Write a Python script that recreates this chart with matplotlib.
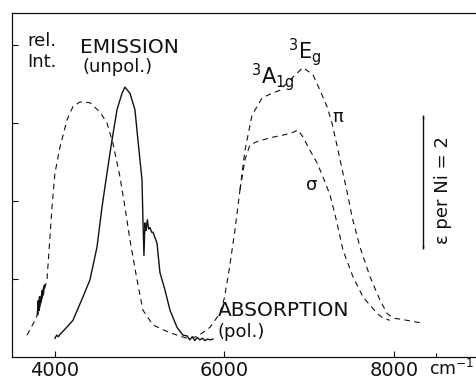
import matplotlib
matplotlib.use("Agg")
import matplotlib.pyplot as plt

# emission (unpolarised), solid trace
em_x = [4000, 4020, 4040, 4059, 4130, 4212, 4330, 4413, 4496, 4555, 4614, 4673,
        4732, 4791, 4826, 4885, 4944, 4979, 5027, 5038, 5050, 5062, 5075, 5090,
        5105, 5121, 5140, 5156, 5204, 5239, 5298, 5357, 5440, 5510, 5560, 5590,
        5620, 5650, 5680, 5710, 5740, 5770, 5800, 5830, 5864]
em_y = [0.24, 0.28, 0.26, 0.29, 0.37, 0.47, 0.77, 0.99, 1.41, 1.92, 2.36, 2.78,
        3.17, 3.38, 3.46, 3.38, 3.17, 2.78, 2.27, 1.76, 1.30, 1.72, 1.62, 1.76,
        1.64, 1.66, 1.60, 1.60, 1.46, 1.08, 0.86, 0.60, 0.38, 0.28, 0.27, 0.22,
        0.26, 0.21, 0.25, 0.22, 0.24, 0.21, 0.23, 0.22, 0.23]

# absorption, common part (low-energy band + rising edge)
ab_x = [3670, 3764, 3800, 3906, 3941, 3965, 4000, 4059, 4142, 4212, 4295, 4413,
        4531, 4614, 4684, 4767, 4826, 4885, 4968, 5038, 5156, 5357, 5558, 5676,
        5829, 5947, 6000, 6060, 6124, 6183]
ab_y = [0.28, 0.47, 0.56, 0.99, 1.54, 1.92, 2.36, 2.69, 3.04, 3.21, 3.27, 3.26,
        3.14, 3.00, 2.74, 2.31, 1.92, 1.50, 0.99, 0.60, 0.41, 0.31, 0.24, 0.26,
        0.38, 0.56, 0.76, 1.15, 1.63, 2.14]

# noisy piece of the low-energy absorption edge (solid)
ab_noise_x = [3795, 3805, 3812, 3820, 3830, 3840, 3850, 3860, 3870, 3882]
ab_noise_y = [0.55, 0.72, 0.60, 0.77, 0.70, 0.74, 0.85, 0.80, 0.90, 0.92]

# pi polarisation
pi_x = [6183, 6242, 6325, 6443, 6537, 6655, 6773, 6926, 7044, 7127, 7210, 7269,
        7330, 7390, 7450, 7505, 7599, 7717, 7835, 7918, 7988, 8154, 8307]
pi_y = [2.14, 2.65, 3.10, 3.32, 3.37, 3.42, 3.55, 3.71, 3.62, 3.42, 3.21, 3.00,
        2.70, 2.40, 2.10, 1.80, 1.41, 1.03, 0.73, 0.56, 0.50, 0.47, 0.44]

# sigma polarisation
si_x = [6183, 6242, 6301, 6384, 6537, 6714, 6808, 6868, 6926, 7009, 7092, 7162,
        7245, 7328, 7398, 7516, 7634, 7800, 7870, 7950]
si_y = [2.14, 2.53, 2.72, 2.76, 2.81, 2.85, 2.88, 2.91, 2.82, 2.65, 2.49, 2.31,
        2.08, 1.72, 1.37, 1.03, 0.77, 0.56, 0.50, 0.47]

# scale bar for epsilon per Ni = 2
bar_x = 8342
bar_lo, bar_hi = 1.41, 3.08

xticks = [4000, 6000, 8000]
xticklabels = ["4000", "6000", "8000"]
yticks = [1, 2, 3, 4]


def main():
    plt.rcParams['font.family'] = ['DejaVu Sans']
    plt.rcParams['mathtext.default'] = 'regular'
    ink = '#111111'

    fig = plt.figure(figsize=(4.77, 3.84), dpi=100)
    ax = fig.add_axes([12 / 477, 27 / 384, 465 / 477, 344 / 384])

    dash = dict(color=ink, lw=0.8, ls=(0, (5, 4)))
    ax.plot(ab_x, ab_y, **dash)
    ax.plot(pi_x, pi_y, **dash)
    ax.plot(si_x, si_y, **dash)
    ax.plot(ab_noise_x, ab_noise_y, color=ink, lw=1.4)
    ax.plot(em_x, em_y, color=ink, lw=1.0)

    # scale bar
    ax.plot([bar_x, bar_x], [bar_lo, bar_hi], color=ink, lw=1.0,
            marker='|', ms=3, mew=1.0)
    ax.text(8580, 2.14, "ε per Ni = 2", rotation=90, ha='center', va='center',
            fontsize=13, color=ink)

    ax.text(3670, 4.05, "rel.", fontsize=13, ha='left', va='center', color=ink)
    ax.text(3670, 3.78, "Int.", fontsize=13, ha='left', va='center', color=ink)
    ax.text(4295, 3.97, "EMISSION", fontsize=14.5, ha='left', va='center',
            color=ink)
    ax.text(4320, 3.72, "(unpol.)", fontsize=13, ha='left', va='center',
            color=ink)
    ax.text(5920, 0.60, "ABSORPTION", fontsize=14.5, ha='left', va='center',
            color=ink)
    ax.text(5920, 0.32, "(pol.)", fontsize=13, ha='left', va='center',
            color=ink)
    ax.text(6310, 3.50, "$^3$A$_{1g}$", fontsize=15, ha='left', va='baseline',
            color=ink)
    ax.text(6745, 3.83, "$^3$E$_g$", fontsize=15, ha='left', va='baseline',
            color=ink)
    ax.text(7340, 3.08, "π", fontsize=13, ha='center', va='center', color=ink)
    ax.text(7033, 2.21, "σ", fontsize=13, ha='center', va='center', color=ink)

    ax.set_xlim(3493, 8980)
    ax.set_ylim(0, 4.41)
    ax.set_xticks(xticks)
    ax.set_xticklabels(xticklabels)
    ax.set_xticks([8500], minor=True)
    ax.set_yticks(yticks)
    ax.set_yticklabels([])
    ax.tick_params(direction='in', length=4, width=0.8, color=ink,
                   labelsize=14, pad=3, labelcolor=ink)
    ax.tick_params(which='minor', direction='in', length=3, width=0.8)
    ax.spines['right'].set_visible(False)
    for s in ['left', 'bottom', 'top']:
        ax.spines[s].set_linewidth(0.9)
        ax.spines[s].set_color(ink)

    ax.text(0.995, -0.052, "cm$^{-1}$", transform=ax.transAxes, fontsize=12.5,
            ha='right', va='baseline', color=ink)

    fig.savefig("out.png", dpi=100)


if __name__ == "__main__":
    main()
